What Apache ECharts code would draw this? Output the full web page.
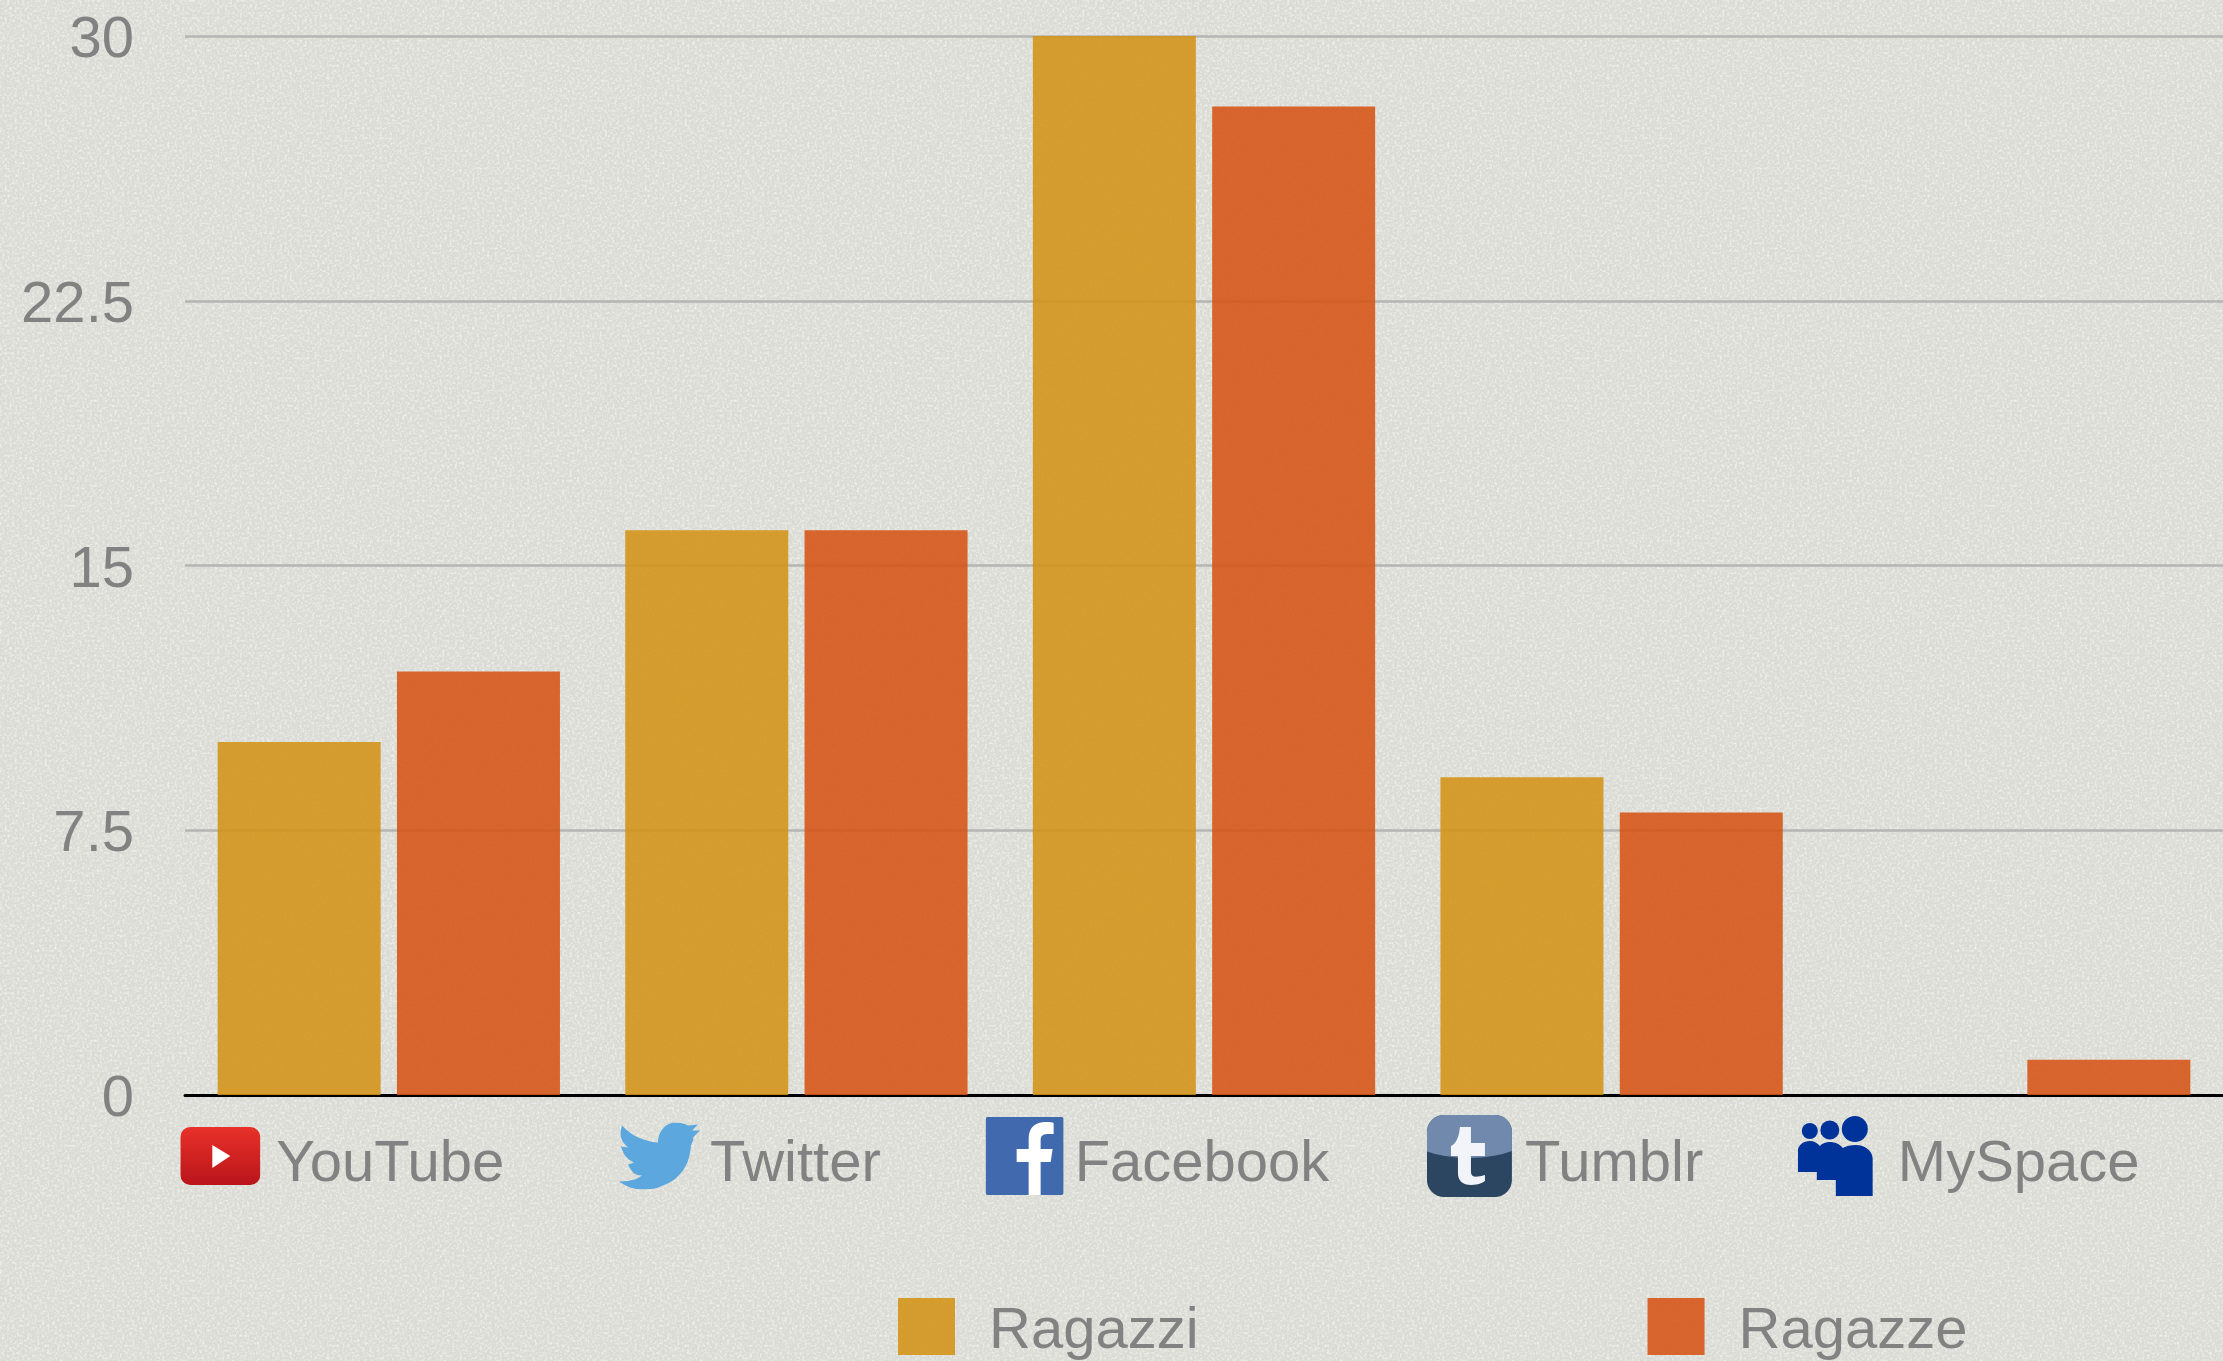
<!DOCTYPE html>
<html>
<head>
<meta charset="utf-8">
<title>Social network per genere</title>
<style>
  html, body { margin: 0; padding: 0; background: #dbdbd5; }
  #noise { position: absolute; left: 0; top: 0; width: 2223px; height: 1361px; }
  #chart { position: absolute; left: 0; top: 0; width: 2223px; height: 1361px; }
</style>
<script src="https://cdn.jsdelivr.net/npm/echarts@6/dist/echarts.min.js"></script>
</head>
<body>
<!-- paper texture behind the chart -->
<svg id="noise" xmlns="http://www.w3.org/2000/svg">
  <filter id="paper">
    <feTurbulence type="fractalNoise" baseFrequency="0.4" numOctaves="3" seed="4"/>
    <feColorMatrix type="matrix" values="0 0 0 0 1  0 0 0 0 1  0 0 0 0 1  1.3 0 0 0 -0.55"/>
  </filter>
  <rect width="100%" height="100%" filter="url(#paper)"/>
</svg>
<div id="chart"></div>

<script>
const categories = ['YouTube', 'Twitter', 'Facebook', 'Tumblr', 'MySpace']
const ragazzi = [10, 16, 30, 9, 0]
const ragazze = [12, 16, 28, 8, 1]
const yTicks = { min: 0, max: 30, interval: 7.5 }

const svgUri = (w, h, body) => 'data:image/svg+xml;charset=utf-8,' + encodeURIComponent(
  `<svg xmlns="http://www.w3.org/2000/svg" width="${w}" height="${h}" viewBox="0 0 ${w} ${h}">${body}</svg>`
)

// logos next to the category names
const icons = {
  YouTube: {
    w: 80, h: 58, gap: 16, tail: 1,
    img: svgUri(80, 58, `<defs><linearGradient id="g" x1="0" y1="0" x2="0" y2="1"><stop offset="0" stop-color="#e8312a"/><stop offset="1" stop-color="#b9141a"/></linearGradient></defs>
      <rect width="80" height="58" rx="10" fill="url(#g)"/><path d="M32 18 L50 29 L32 41 Z" fill="#fff"/>`)
  },
  Twitter: {
    w: 81, h: 67, gap: 10, tail: 1,
    img: svgUri(81, 67, `<path fill="#5ca8de" d="M3 3 C12 13 25 19 39 20 C39 9 47 0 56 0 C61 0 66 1 69 3 L79 2 L73 8 L81 8 L74 15 C75 18 73 20 72 23 C71 33 69 41 64 48 C58 56 52 60 44 63 C38 66 31 67 24 67 C15 67 7 64 0 59 C6 59 11 58 16 57 C19 56 21 54 23 53 C19 53 16 52 14 50 C12 47 10 45 9 42 L15 40 C11 38 8 36 6 33 C4 30 3 27 2 24 L9 25 C6 22 3 19 2 15 C1 11 2 7 3 3 Z"/>`)
  },
  Facebook: {
    w: 78, h: 78, gap: 11, tail: 1,
    img: svgUri(78, 78, `<rect width="78" height="78" rx="2" fill="#4169ad"/>
      <path fill="#fff" d="M43 78 V45 H31 V32 H43 V22 C43 10 50 5 60 5 C64 5 67 5 68 6 V17 H62 C56 17 55 20 55 24 V32 H67 L65 45 H55 V78 Z"/>`)
  },
  Tumblr: {
    w: 85, h: 82, gap: 13, tail: 1,
    img: svgUri(85, 82, `<defs><clipPath id="c"><rect width="85" height="82" rx="17"/></clipPath></defs>
      <g clip-path="url(#c)"><rect width="85" height="82" fill="#2c4661"/><ellipse cx="42" cy="14" rx="66" ry="29" fill="#7089ac"/></g>
      <path fill="#f3f4f9" d="M33 12 H44 V28 H58 V41 H44 V57 C44 62 48 63 58 60 V66 C54 69 48 70 44 70 C36 70 31 66 31 58 V41 H24 V31 C29 29 32 22 33 12 Z"/>`)
  },
  MySpace: {
    w: 75, h: 80, gap: 25, tail: 9,
    img: svgUri(75, 80, `<g fill="#003399"><circle cx="12" cy="15" r="8"/><circle cx="32" cy="14" r="9.5"/><circle cx="57" cy="13" r="13"/>
      <path d="M0 56 V35 C0 29 6 25 12 25 C16 25 20 27 22 30 C25 27 28 26 32 26 C37 26 42 28 45 32 C48 30 53 29 58 29 C67 29 75 35 75 43 V80 H38 V64 H19 V56 Z"/></g>`)
  }
}

const labelRich = {
  name: {
    fontSize: 58,
    color: '#828282',
    fontFamily: '"Liberation Sans", Arial, sans-serif',
    height: 82,
    lineHeight: 82,
    padding: [17, 0, 0, 0]
  }
}
categories.forEach(c => {
  const ic = icons[c]
  labelRich['i' + c] = { width: ic.w, height: ic.h, backgroundColor: { image: ic.img } }
  labelRich['s' + c] = { width: ic.gap, height: 1 }
  labelRich['e' + c] = { width: ic.tail, height: 1 }
})

const chart = echarts.init(document.getElementById('chart'), null, { renderer: 'canvas' })

chart.setOption({
  backgroundColor: 'transparent',
  animation: false,
  grid: { left: 185, right: 0, top: 36, bottom: 266, containLabel: false },
  legend: {
    left: 893,
    top: 1293,
    itemWidth: 57,
    itemHeight: 57,
    itemGap: 449,
    icon: 'rect',
    formatter: name => `{t|${name}}`,
    textStyle: {
      rich: {
        t: {
          fontSize: 58,
          color: '#828282',
          fontFamily: '"Liberation Sans", Arial, sans-serif',
          padding: [11, 0, 0, 29]
        }
      }
    },
    data: ['Ragazzi', 'Ragazze']
  },
  xAxis: {
    type: 'category',
    data: categories,
    axisTick: { show: false },
    axisLine: { lineStyle: { color: '#000', width: 3 } },
    axisLabel: {
      interval: 0,
      margin: 20,
      padding: [0, 92, 0, 0],
      formatter: v => `{i${v}|}{s${v}|}{name|${v}}{e${v}|}`,
      rich: labelRich
    }
  },
  yAxis: {
    type: 'value',
    min: yTicks.min,
    max: yTicks.max,
    interval: yTicks.interval,
    axisLine: { show: false },
    axisTick: { show: false },
    axisLabel: {
      margin: 51,
      fontSize: 58,
      verticalAlign: 'top',
      lineHeight: 10,
      color: '#828282',
      fontFamily: '"Liberation Sans", Arial, sans-serif'
    },
    splitLine: { lineStyle: { color: '#b5b5b3', width: 2.5 } }
  },
  series: [
    {
      name: 'Ragazzi',
      type: 'bar',
      data: ragazzi,
      barWidth: 163,
      barGap: '10%',
      itemStyle: { color: '#d39316', opacity: 0.88 }
    },
    {
      name: 'Ragazze',
      type: 'bar',
      data: ragazze,
      barWidth: 163,
      itemStyle: { color: '#d55314', opacity: 0.88 }
    }
  ]
})
</script>
</body>
</html>
